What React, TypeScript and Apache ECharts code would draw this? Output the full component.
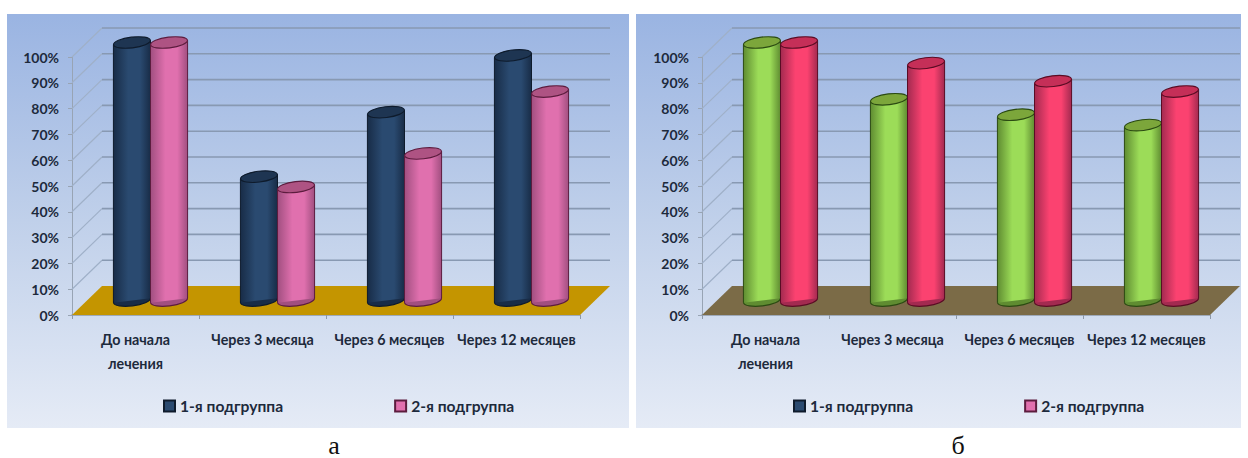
import React, { useEffect, useRef } from "react";
import * as echarts from "echarts";

const categories = ["До начала\nлечения", "Через 3 месяца", "Через 6 месяцев", "Через 12 месяцев"];
const seriesNames = ["1-я подгруппа", "2-я подгруппа"];
const ticks = [0, 10, 20, 30, 40, 50, 60, 70, 80, 90, 100];

const leftFirst = [100, 48, 73, 95];
const leftSecond = [100, 44, 57, 81];
const rightFirst = [100, 78, 72, 68];
const rightSecond = [100, 92, 85, 81];

const DEPTH_X = 30;
const DEPTH_Y = 29;
const TEXT = "#1d2a3c";
const FONT = "Lato";

type Tone = { edge: string; mid: string; top: string; line: string };

const navy: Tone = { edge: "#182c47", mid: "#2a4a70", top: "#1e3552", line: "#0e1b2c" };
const pink: Tone = { edge: "#a14f80", mid: "#e070ae", top: "#ae5383", line: "#5c1c3e" };
const green: Tone = { edge: "#5f8c31", mid: "#9cdc58", top: "#7ca63b", line: "#2b4a12" };
const crimson: Tone = { edge: "#a32a50", mid: "#fb4270", top: "#c52f58", line: "#5a0c24" };

const shade = (t: Tone) => ({
  type: "linear",
  x: 0,
  y: 0,
  x2: 1,
  y2: 0,
  colorStops: [
    { offset: 0, color: t.edge },
    { offset: 0.4, color: t.mid },
    { offset: 0.72, color: t.mid },
    { offset: 1, color: t.edge },
  ],
});

// Cylinder standing in the middle of the floor's depth; slot 0 is left of the band centre, slot 1 right.
const cylinder = (tone: Tone, slot: number) => (_: any, api: any) => {
  const band = api.size([1, 0])[0];
  const w = band * 0.292;
  const [cx, top] = api.coord([api.value(0), api.value(1)]);
  const base = api.coord([api.value(0), 0])[1];
  const x0 = cx + DEPTH_X / 2 + (slot === 0 ? -w : 0);
  const x1 = x0 + w;
  const yTop = top - DEPTH_Y / 2;
  const yBase = base - DEPTH_Y / 2;
  const tilt = 2.2;
  const midX = (x0 + x1) / 2;
  const fill = shade(tone);
  const ellipse = (y: number, style: any) => ({
    type: "ellipse",
    x: midX,
    y,
    rotation: 0.12,
    shape: { cx: 0, cy: 0, rx: w / 2, ry: 5.4 },
    style,
  });
  return {
    type: "group",
    children: [
      ellipse(yBase, { fill: tone.edge, stroke: tone.line, lineWidth: 1.2 }),
      {
        type: "polygon",
        shape: {
          points: [
            [x0, yTop + tilt],
            [x1, yTop - tilt],
            [x1, yBase - tilt],
            [x0, yBase + tilt],
          ],
        },
        style: { fill },
      },
      { type: "line", shape: { x1: x0, y1: yTop + tilt, x2: x0, y2: yBase + tilt }, style: { stroke: tone.line, lineWidth: 1 } },
      { type: "line", shape: { x1, y1: yTop - tilt, x2: x1, y2: yBase - tilt }, style: { stroke: tone.line, lineWidth: 1 } },
      ellipse(yTop, { fill: tone.top, stroke: tone.line, lineWidth: 1.1 }),
    ],
  };
};

// Back wall rules, the diagonals on the side wall, and the floor at the 0% level.
const walls = (floor: string) => (_: any, api: any) => {
  const band = api.size([1, 0])[0];
  const [cx, y] = api.coord([0, api.value(1)]);
  const x0 = cx - band / 2;
  const x1 = x0 + band * categories.length;
  if (api.value(1) === 0) {
    return {
      type: "polygon",
      shape: {
        points: [
          [x0, y],
          [x0 + DEPTH_X, y - DEPTH_Y],
          [x1 + DEPTH_X, y - DEPTH_Y],
          [x1, y],
        ],
      },
      style: { fill: floor },
    };
  }
  return {
    type: "group",
    children: [
      { type: "line", shape: { x1: x0, y1: y, x2: x0 + DEPTH_X, y2: y - DEPTH_Y }, style: { stroke: "#9fb0c8", lineWidth: 1.2 } },
      { type: "line", shape: { x1: x0 + DEPTH_X, y1: y - DEPTH_Y, x2: x1 + DEPTH_X, y2: y - DEPTH_Y }, style: { stroke: "#8899b2", lineWidth: 1.6 } },
    ],
  };
};

const buildPanel = (
  i: number,
  plotLeft: number,
  legendLeft: number,
  first: number[],
  second: number[],
  tones: [Tone, Tone],
  floor: string,
) => ({
  grid: { left: plotLeft, top: 57, width: 508, height: 258 },
  xAxis: {
    type: "category",
    gridIndex: i,
    data: categories,
    axisLine: { lineStyle: { color: "#8d98a8", width: 1.5 } },
    axisTick: { show: true, length: 4, lineStyle: { color: "#8d98a8" } },
    axisLabel: { color: TEXT, fontFamily: FONT, fontWeight: 700, fontSize: 14.3, lineHeight: 24, margin: 12, interval: 0 },
  },
  yAxis: {
    type: "value",
    gridIndex: i,
    min: 0,
    max: 100,
    interval: 10,
    axisLine: { show: true, lineStyle: { color: "#98a4b4", width: 1 } },
    axisTick: { show: true, length: 4, lineStyle: { color: "#98a4b4" } },
    splitLine: { show: false },
    axisLabel: { color: TEXT, fontFamily: FONT, fontWeight: 700, fontSize: 14, margin: 13, formatter: "{value}%" },
  },
  legend: {
    left: legendLeft,
    top: 398,
    padding: 0,
    icon: "rect",
    itemWidth: 11,
    itemHeight: 11,
    itemGap: 111,
    data: seriesNames.map((name) => ({ name })),
    selectedMode: false,
    textStyle: { color: TEXT, fontFamily: FONT, fontWeight: 700, fontSize: 15.6 },
  },
  series: [
    {
      type: "custom",
      name: `walls-${i}`,
      xAxisIndex: i,
      yAxisIndex: i,
      z: 1,
      silent: true,
      renderItem: walls(floor),
      data: ticks.map((t) => [0, t]),
    },
    ...[first, second].map((values, slot) => ({
      type: "custom",
      name: seriesNames[slot],
      xAxisIndex: i,
      yAxisIndex: i,
      z: 3 + slot,
      itemStyle: { color: tones[slot].mid, borderColor: tones[slot].line, borderWidth: 1 },
      renderItem: cylinder(tones[slot], slot),
      data: values.map((v, c) => [c, v]),
    })),
  ],
});

const backdrop = (x: number, width: number) => ({
  type: "rect",
  z: -10,
  shape: { x, y: 14, width, height: 414 },
  style: {
    fill: {
      type: "linear",
      x: 0,
      y: 0,
      x2: 0,
      y2: 1,
      colorStops: [
        { offset: 0, color: "#9ab4e2" },
        { offset: 0.5, color: "#c0d0ea" },
        { offset: 1, color: "#e5ebf6" },
      ],
    },
  },
});

const caption = (text: string, x: number) => ({
  type: "text",
  x,
  y: 445,
  style: { text, fill: "#111", font: '26px "Liberation Serif"', textAlign: "center", textVerticalAlign: "middle" },
});

export default function App() {
  const ref = useRef<HTMLDivElement>(null);

  useEffect(() => {
    const chart = echarts.init(ref.current!, undefined, { renderer: "svg", width: 1248, height: 458 });
    const a = buildPanel(0, 72, 163, leftFirst, leftSecond, [navy, pink], "#c49500");
    const b = buildPanel(1, 702, 793, rightFirst, rightSecond, [green, crimson], "#7b6b47");
    chart.setOption({
      animation: false,
      backgroundColor: "#ffffff",
      grid: [a.grid, b.grid],
      xAxis: [a.xAxis, b.xAxis],
      yAxis: [a.yAxis, b.yAxis],
      legend: [a.legend, b.legend],
      series: [...a.series, ...b.series],
      graphic: [backdrop(7, 622), backdrop(636, 605), caption("а", 334), caption("б", 958)],
    });
    return () => chart.dispose();
  }, []);

  return <div ref={ref} style={{ position: "absolute", left: 0, top: 0, width: 1248, height: 458 }} />;
}
